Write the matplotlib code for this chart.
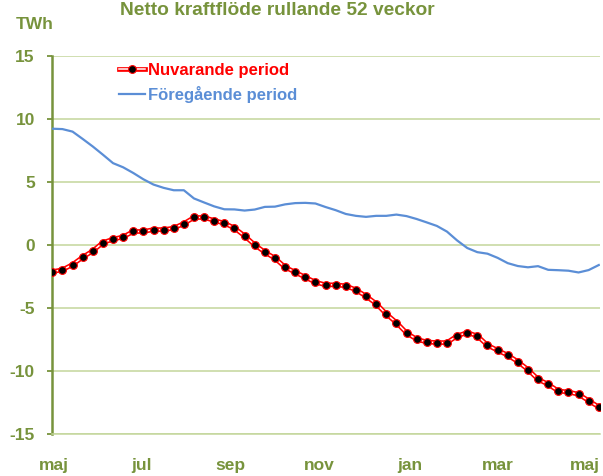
import matplotlib
matplotlib.use('Agg')
import matplotlib.pyplot as plt
from matplotlib.lines import Line2D
import numpy as np

plt.rcParams['font.family'] = ['Liberation Sans', 'DejaVu Sans']

# Netto kraftflöde, rullande 52 veckor (TWh), one value per week
nuvarande = [-2.12, -1.98, -1.56, -0.98, -0.48, 0.18, 0.45, 0.63, 1.06, 1.06,
             1.21, 1.21, 1.33, 1.69, 2.17, 2.17, 1.93, 1.72, 1.33, 0.71,
             0.0, -0.58, -1.06, -1.77, -2.17, -2.57, -2.96, -3.17, -3.17, -3.25,
             -3.57, -4.07, -4.66, -5.48, -6.16, -6.98, -7.49, -7.70, -7.75, -7.75,
             -7.22, -6.96, -7.22, -7.96, -8.36, -8.75, -9.26, -9.89, -10.66, -11.06,
             -11.59, -11.67, -11.85, -12.36, -12.86]

foregaende = [9.21, 9.18, 8.98, 8.40, 7.80, 7.15, 6.48, 6.15, 5.70, 5.20,
              4.78, 4.52, 4.33, 4.33, 3.68, 3.36, 3.05, 2.82, 2.81, 2.72,
              2.80, 3.01, 3.03, 3.21, 3.31, 3.33, 3.28, 3.00, 2.75, 2.45,
              2.30, 2.22, 2.30, 2.30, 2.40, 2.28, 2.05, 1.78, 1.50, 1.05,
              0.35, -0.25, -0.58, -0.70, -1.03, -1.45, -1.68, -1.78, -1.69, -1.98,
              -2.01, -2.05, -2.19, -2.00, -1.60]

month_labels = ['maj', 'jul', 'sep', 'nov', 'jan', 'mar', 'maj']
month_pos = [0.2, 8.8, 17.6, 26.4, 35.3, 44.0, 52.6]  # in weeks

OLIVE = '#77933C'
GRID = '#C3D69B'
BLUE = '#5B8ED6'
RED = '#FF0000'

weeks = np.arange(len(nuvarande))

fig = plt.figure(figsize=(6.03, 4.76), dpi=100)
ax = fig.add_axes([52.3/603, 42/476, (600-52.3)/603, (434-55.7)/476])

ax.plot(np.arange(len(foregaende)), foregaende, color=BLUE, lw=1.6, zorder=3)

# red "double" line with black dots
ax.plot(weeks, nuvarande, color=RED, lw=3.4, zorder=4, solid_joinstyle='round')
ax.plot(weeks, nuvarande, color='white', lw=1.1, zorder=5, solid_joinstyle='round')
ax.plot(weeks, nuvarande, ls='none', marker='o', ms=5.6, mfc='black', mec=RED,
        mew=0.8, zorder=6)

ax.set_xlim(0, 54.12)
ax.set_ylim(-15, 15)
ax.set_yticks([-15, -10, -5, 0, 5, 10, 15])
ax.set_yticklabels(['-15', '-10', '-5', '0', '5', '10', '15'])
ax.set_xticks(month_pos)
ax.set_xticklabels(month_labels)

ax.grid(axis='y', color=GRID, lw=1.1)
ax.set_axisbelow(True)
for s in ['top', 'right']:
    ax.spines[s].set_visible(False)
ax.spines['bottom'].set_color(GRID)
ax.spines['bottom'].set_linewidth(1.1)
ax.spines['left'].set_color(OLIVE)
ax.spines['left'].set_linewidth(1.8)

ax.tick_params(axis='y', direction='out', length=3.6, width=1.3, color=OLIVE,
               pad=9, labelsize=12.5, labelcolor=OLIVE)
ax.tick_params(axis='x', length=0, pad=17, labelsize=12.5, labelcolor=OLIVE)
for lab in ax.get_xticklabels() + ax.get_yticklabels():
    lab.set_fontweight('bold')

# legend
h_red = (Line2D([], [], color=RED, lw=3.4),
         Line2D([], [], color='white', lw=1.1),
         Line2D([], [], ls='none', marker='o', ms=5.6, mfc='black', mec=RED, mew=0.8))
h_blue = Line2D([], [], color=BLUE, lw=1.6)
leg = ax.legend([h_red, h_blue], ['Nuvarande period', 'Föregående period'],
                loc='upper left', bbox_to_anchor=(0.094, 1.02), frameon=False,
                handlelength=1.6, handletextpad=0.15, labelspacing=0.45,
                prop={'weight': 'bold', 'size': 12})
leg.get_texts()[0].set_color(RED)
leg.get_texts()[1].set_color(BLUE)

fig.text(16/603, 1 - 29/476, 'TWh', color=OLIVE, fontsize=12.5,
         fontweight='bold', va='baseline', ha='left')
fig.text(277/603, 1 - 15/476, 'Netto kraftflöde rullande 52 veckor',
         color=OLIVE, fontsize=13.8, fontweight='bold', va='baseline', ha='center')

fig.savefig('out.png', dpi=100)
